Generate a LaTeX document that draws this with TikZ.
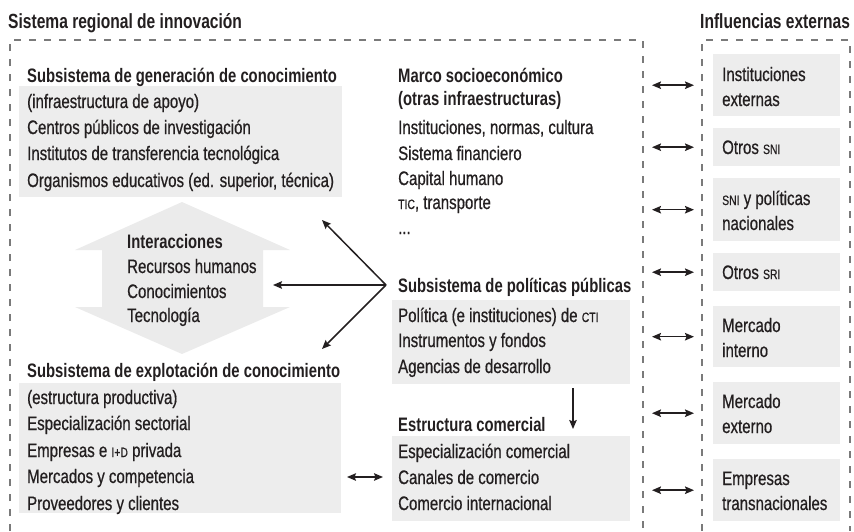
\documentclass[tikz,border=0pt]{standalone}
\usepackage{fontspec}
\setmainfont{Liberation Sans}[FakeStretch=0.77, UprightFeatures={FakeBold=0.6}, BoldFeatures={FakeStretch=0.76}]
\usetikzlibrary{arrows.meta}
\definecolor{boxgrey}{HTML}{EDEDED}
\definecolor{arrgrey}{HTML}{EBEBEB}
\definecolor{dashgrey}{HTML}{7A7A7A}
\definecolor{ink}{HTML}{231F20}
\newcommand\smc[1]{{\fontsize{13.5}{13.5}\selectfont #1}}
\begin{document}
\begin{tikzpicture}[x=1pt,y=-1pt,
  txt/.style={inner sep=0pt, anchor=base west, font=\fontsize{19.5}{23}\selectfont, text=ink},
  hd/.style={txt, font=\fontsize{19.5}{23}\selectfont\bfseries},
  ttl/.style={txt, font=\fontsize{20.5}{24}\selectfont\bfseries},
  gbox/.style={fill=boxgrey, draw=none, inner sep=0pt, anchor=north west},
  frame/.style={draw=dashgrey, line width=2.3pt, dash pattern=on 7pt off 8pt},
  arr/.style={draw=ink, line width=1.5pt, -{Stealth[length=9pt,width=7.5pt,inset=1.5pt]}},
  dbl/.style={draw=ink, line width=1.5pt, {Stealth[length=9pt,width=7.5pt,inset=1.5pt]}-{Stealth[length=9pt,width=7.5pt,inset=1.5pt]}},
]
\useasboundingbox (0,0) rectangle (854,531);

% titles and frames
\node[ttl] (tsri) at (8,28) {Sistema regional de innovación};
\node[ttl] (text) at (700,28) {Influencias externas};
\draw[frame] (10,531) -- (10,40) -- (643,40) -- (643,531);
\draw[frame] (702,531) -- (702,40) -- (850,40) -- (850,531);

% generación
\node[gbox, minimum width=323pt, minimum height=111pt] (g1) at (19,86) {};
\node[hd] (gen) at (27,82) {Subsistema de generación de conocimiento};
\node[txt] (g1a) at (27,108) {(infraestructura de apoyo)};
\node[txt] (g1b) at (27,134) {Centros públicos de investigación};
\node[txt] (g1c) at (27,160) {Institutos de transferencia tecnológica};
\node[txt] (g1d) at (27,187) {Organismos educativos (ed. superior, técnica)};

% interacciones arrow
\fill[arrgrey] (182,202) -- (290,250) -- (263,250) -- (263,307) -- (290,307)
  -- (182,354) -- (75,307) -- (102,307) -- (102,250) -- (75,250) -- cycle;
\node[hd] (int) at (127,248) {Interacciones};
\node[txt] (inta) at (127,273) {Recursos humanos};
\node[txt] (intb) at (127,298) {Conocimientos};
\node[txt] (intc) at (127,322) {Tecnología};

% explotación
\node[gbox, minimum width=322pt, minimum height=130pt] (g2) at (19,383) {};
\node[hd] (exp) at (27,377) {Subsistema de explotación de conocimiento};
\node[txt] (g2a) at (27,404) {(estructura productiva)};
\node[txt] (g2b) at (27,430) {Especialización sectorial};
\node[txt] (g2c) at (27,457) {Empresas e \smc{I+D} privada};
\node[txt] (g2d) at (27,483) {Mercados y competencia};
\node[txt] (g2e) at (27,510) {Proveedores y clientes};

% marco
\node[hd] (mar) at (398,82) {Marco socioeconómico};
\node[hd] (mar2) at (398,105) {(otras infraestructuras)};
\node[txt] (ma) at (398,134) {Instituciones, normas, cultura};
\node[txt] (mb) at (398,160) {Sistema financiero};
\node[txt] (mc) at (398,185) {Capital humano};
\node[txt] (md) at (398,209) {\smc{TIC}, transporte};
\node[txt] (me) at (398,234) {...};

% políticas
\node[gbox, minimum width=238pt, minimum height=84pt] (g3) at (392,300) {};
\node[hd] (pol) at (398,292) {Subsistema de políticas públicas};
\node[txt] (pa) at (398,322) {Política (e instituciones) de \smc{CTI}};
\node[txt] (pb) at (398,347) {Instrumentos y fondos};
\node[txt] (pc) at (398,373) {Agencias de desarrollo};

% estructura comercial
\node[gbox, minimum width=238pt, minimum height=85pt] (g4) at (392,436) {};
\node[hd] (com) at (398,431) {Estructura comercial};
\node[txt] (ca) at (398,458) {Especialización comercial};
\node[txt] (cb) at (398,484) {Canales de comercio};
\node[txt] (cc) at (398,510) {Comercio internacional};

% internal connectors
\coordinate (hub) at (386,285);
\coordinate (a1) at (322,220);
\coordinate (a2) at (273,285);
\coordinate (a3) at (322,349);
\draw[arr] (hub) -- (a1);
\draw[arr] (hub) -- (a2);
\draw[arr] (hub) -- (a3);
\coordinate (d1) at (573,388);
\coordinate (d2) at (573,429);
\draw[arr] (d1) -- (d2);
\coordinate (h1) at (347,477);
\coordinate (h2) at (383,477);
\draw[dbl] (h1) -- (h2);

% external boxes
\node[gbox, minimum width=127pt, minimum height=62pt] (e1) at (713,54) {};
\node[gbox, minimum width=127pt, minimum height=38pt] (e2) at (713,128) {};
\node[gbox, minimum width=127pt, minimum height=63pt] (e3) at (713,178) {};
\node[gbox, minimum width=127pt, minimum height=38pt] (e4) at (713,253) {};
\node[gbox, minimum width=127pt, minimum height=61pt] (e5) at (713,306) {};
\node[gbox, minimum width=127pt, minimum height=62pt] (e6) at (713,382) {};
\node[gbox, minimum width=127pt, minimum height=62pt] (e7) at (713,459) {};
\node[txt] (e1a) at (722,81) {Instituciones};
\node[txt] (e1b) at (722,106) {externas};
\node[txt] (e2a) at (722,154) {Otros \smc{SNI}};
\node[txt] (e3a) at (722,205) {\smc{SNI} y políticas};
\node[txt] (e3b) at (722,230) {nacionales};
\node[txt] (e4a) at (722,279) {Otros \smc{SRI}};
\node[txt] (e5a) at (722,332) {Mercado};
\node[txt] (e5b) at (722,357) {interno};
\node[txt] (e6a) at (722,408) {Mercado};
\node[txt] (e6b) at (722,433) {externo};
\node[txt] (e7a) at (722,485) {Empresas};
\node[txt] (e7b) at (722,510) {transnacionales};

\foreach \e in {e1,e2,e3,e4,e5,e6,e7}
  \draw[dbl] ([xshift=-61pt]\e.west) -- ([xshift=-19pt]\e.west);
\end{tikzpicture}
\end{document}
